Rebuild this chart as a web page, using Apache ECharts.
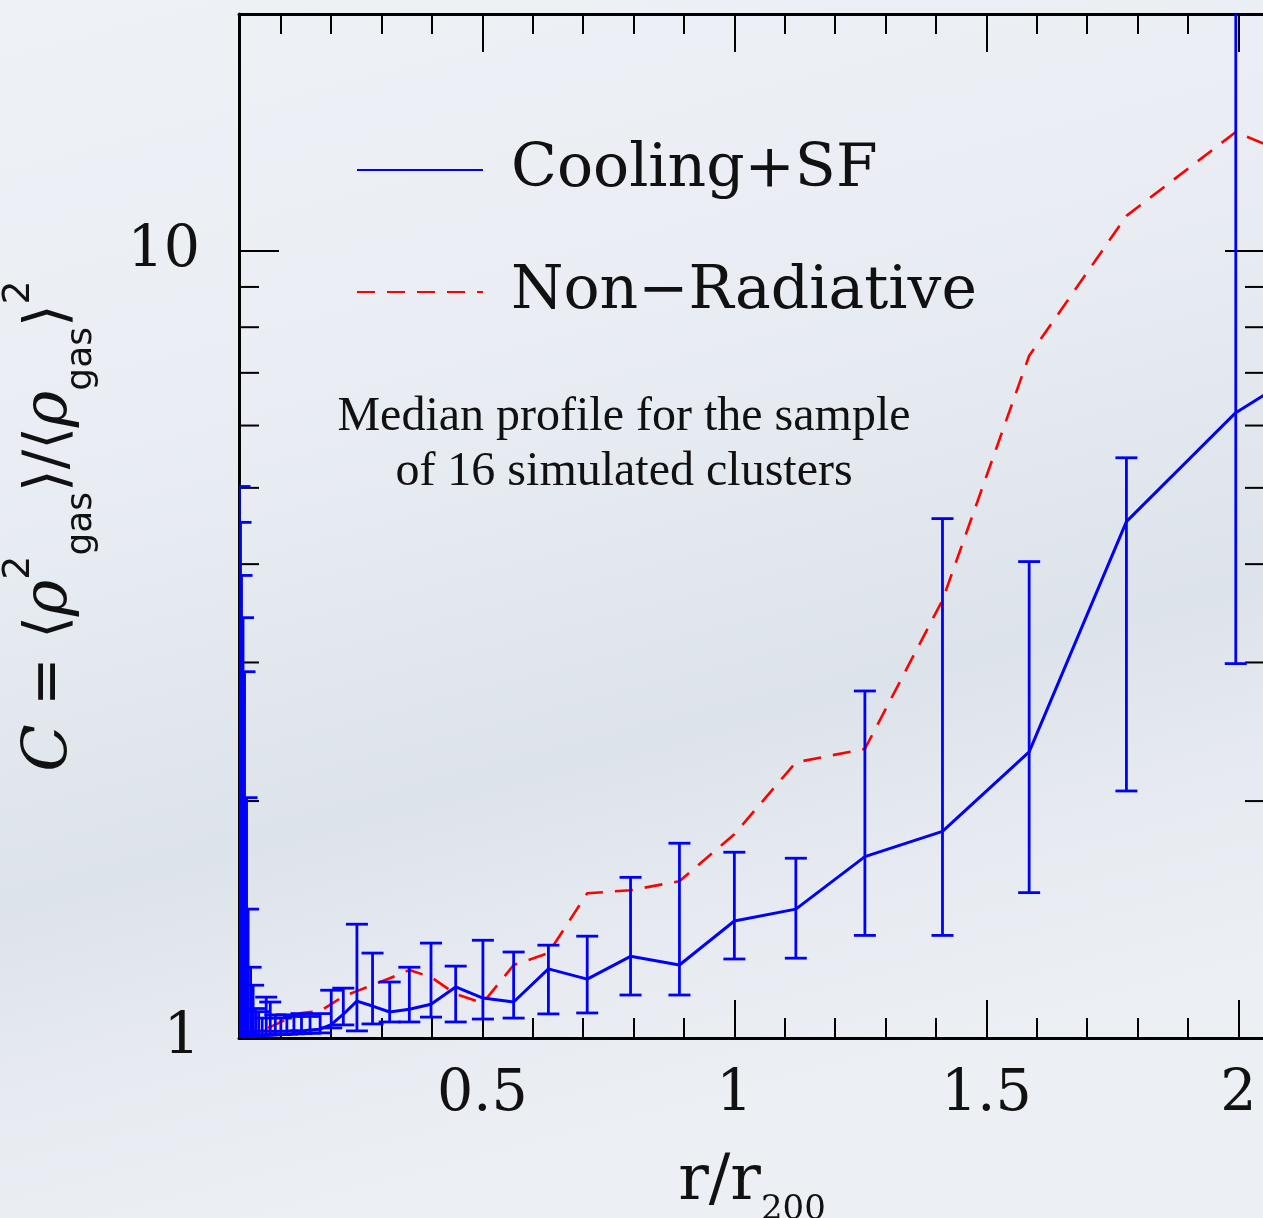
<!DOCTYPE html>
<html>
<head>
<meta charset="utf-8">
<script src="https://cdn.jsdelivr.net/npm/echarts@6/dist/echarts.min.js"></script>
<style>
html,body{margin:0;padding:0;background:#e9edf3;}
#chart{width:1263px;height:1218px;}
</style>
</head>
<body>
<div id="chart"></div>
<script>
// r / r200 sample positions
const radius = [0.018, 0.020, 0.022, 0.025, 0.028, 0.032, 0.035, 0.040, 0.045, 0.050,
  0.056, 0.063, 0.071, 0.079, 0.089, 0.100, 0.112, 0.126, 0.141, 0.158,
  0.178, 0.200, 0.224, 0.251, 0.282, 0.316, 0.355, 0.398, 0.447, 0.501,
  0.562, 0.631, 0.708, 0.794, 0.891, 1.000, 1.122, 1.259, 1.413, 1.585,
  1.778, 1.995, 2.239];
// Cooling+SF median clumping factor
const coolingMedian = [1.008, 1.010, 1.012, 1.014, 1.015, 1.016, 1.018, 1.018, 1.019, 1.020,
  1.020, 1.021, 1.020, 1.020, 1.019, 1.020, 1.020, 1.022, 1.021, 1.024,
  1.026, 1.040, 1.072, 1.114, 1.098, 1.079, 1.088, 1.104, 1.161, 1.124,
  1.111, 1.224, 1.188, 1.270, 1.238, 1.408, 1.458, 1.70, 1.83, 2.31,
  4.53, 6.23, 7.8];
const coolingLow = [1.000, 1.000, 1.001, 1.002, 1.003, 1.004, 1.005, 1.006, 1.006, 1.007,
  1.008, 1.008, 1.009, 1.009, 1.010, 1.010, 1.011, 1.012, 1.013, 1.014,
  1.015, 1.030, 1.039, 1.021, 1.042, 1.048, 1.048, 1.063, 1.048, 1.057,
  1.060, 1.073, 1.076, 1.134, 1.134, 1.26, 1.263, 1.35, 1.35, 1.53,
  2.06, 2.99, null];
const coolingHigh = [5.02, 4.52, 3.87, 3.42, 2.92, 2.02, 1.458, 1.23, 1.167, 1.09,
  1.08, 1.06, 1.127, 1.111, 1.07, 1.06, 1.07, 1.065, 1.074, 1.065,
  1.074, 1.15, 1.157, 1.395, 1.282, 1.178, 1.23, 1.32, 1.234, 1.331,
  1.286, 1.312, 1.347, 1.60, 1.768, 1.722, 1.692, 2.76, 4.57, 4.03,
  5.46, 25, null];
// Non-Radiative median clumping factor
const nonRadiative = [1.004, 1.006, 1.007, 1.008, 1.009, 1.010, 1.011, 1.012, 1.013, 1.015,
  1.018, 1.021, 1.027, 1.033, 1.040, 1.048, 1.057, 1.066, 1.076, 1.079,
  1.082, 1.104, 1.130, 1.147, 1.168, 1.191, 1.220, 1.195, 1.137, 1.108,
  1.238, 1.282, 1.527, 1.541, 1.582, 1.815, 2.24, 2.33, 3.60, 7.36,
  11.08, 14.16, 12.2];

const xMajorTicks = [0.5, 1, 1.5, 2];
const xMinorTicks = [0.1, 0.2, 0.3, 0.4, 0.6, 0.7, 0.8, 0.9, 1.1, 1.2, 1.3, 1.4,
  1.6, 1.7, 1.8, 1.9, 2.0];
const yMinorTicks = [2, 3, 4, 5, 6, 7, 8, 9, 20];

const X_MIN = 0.017, X_MAX = 2.053, Y_MIN = 1, Y_MAX = 20;
const BLUE = '#0000ff', RED = '#ff0000', INK = '#111111';

const chart = echarts.init(document.getElementById('chart'), null, {renderer: 'canvas'});

function xAxisDef(position, ticks, len, opts) {
  return Object.assign({
    type: 'value', position: position, min: X_MIN, max: X_MAX,
    axisLine: {show: false},
    axisTick: {show: true, inside: true, length: len, customValues: ticks,
      lineStyle: {color: '#000', width: 2}},
    axisLabel: {show: false},
    splitLine: {show: false}
  }, opts || {});
}

const axisLineStyle = {show: true, onZero: false, lineStyle: {color: '#000', width: 3}};

const option = {
  backgroundColor: {
    type: 'linear', x: 0, y: 0, x2: 0.25, y2: 1,
    colorStops: [
      {offset: 0, color: '#eef1f6'},
      {offset: 0.35, color: '#eaeef4'},
      {offset: 0.55, color: '#e3e8ef'},
      {offset: 0.7, color: '#dde3ea'},
      {offset: 0.85, color: '#e7ebf1'},
      {offset: 1, color: '#eceff4'}
    ]
  },
  animation: false,
  grid: {left: 239, top: 14, right: -2, bottom: 180, containLabel: false, outerBoundsMode: 'none'},
  legend: {
    data: ['Cooling+SF', 'Non\u2212Radiative'],
    orient: 'vertical', left: 356, top: 138, padding: 0,
    itemWidth: 126, itemHeight: 20, itemGap: 58,
    selectedMode: false,
    itemStyle: {opacity: 0, borderWidth: 0},
    textStyle: {fontFamily: '"DejaVu Serif", serif', fontSize: 60, color: INK,
      lineHeight: 64, padding: [0, 0, 0, 23]}
  },
  xAxis: [
    xAxisDef('bottom', xMajorTicks, 38, {
      axisLine: axisLineStyle,
      axisLabel: {show: true, customValues: xMajorTicks, margin: 29,
        fontFamily: '"DejaVu Serif", serif', fontSize: 57, color: INK},
      name: '{n|r/r}{sub|200}', nameLocation: 'middle', nameGap: 99,
      nameTextStyle: {
        color: INK,
        rich: {
          n: {fontFamily: '"DejaVu Serif", serif', fontSize: 64, lineHeight: 90, color: INK},
          sub: {fontFamily: '"DejaVu Serif", serif', fontSize: 34, lineHeight: 34,
            verticalAlign: 'bottom', color: INK}
        }
      }
    }),
    xAxisDef('bottom', xMinorTicks, 20),
    xAxisDef('top', xMajorTicks, 38, {axisLine: axisLineStyle}),
    xAxisDef('top', xMinorTicks, 20)
  ],
  yAxis: [
    {
      type: 'log', logBase: 10, min: Y_MIN, max: Y_MAX, position: 'left',
      axisLine: axisLineStyle,
      axisTick: {show: true, inside: true, length: 40, lineStyle: {color: '#000', width: 2}},
      axisLabel: {show: true, margin: 39, showMaxLabel: false,
        fontFamily: '"DejaVu Serif", serif', fontSize: 57, color: INK},
      splitLine: {show: false},
      name: '{i|C}{n| = \u27e8}{i|\u03c1}{sup|2}{sub|gas}{n|\u27e9/\u27e8}{i|\u03c1}{sub|gas}{n|\u27e9}{sup|2}',
      nameLocation: 'middle', nameRotate: 90, nameGap: 139,
      nameTextStyle: {
        color: INK,
        rich: {
          i: {fontFamily: '"DejaVu Serif", serif', fontStyle: 'italic', fontSize: 62,
            lineHeight: 100, color: INK},
          n: {fontFamily: '"DejaVu Sans", "Noto Sans", sans-serif', fontSize: 58,
            lineHeight: 100, color: INK},
          sup: {fontFamily: '"DejaVu Sans", sans-serif', fontSize: 38, lineHeight: 64,
            verticalAlign: 'top', color: INK},
          sub: {fontFamily: '"DejaVu Sans", sans-serif', fontSize: 36, lineHeight: 34,
            verticalAlign: 'bottom', color: INK}
        }
      }
    },
    {
      type: 'log', logBase: 10, min: Y_MIN, max: Y_MAX, position: 'right',
      axisLine: axisLineStyle,
      axisTick: {show: true, inside: true, length: 40, lineStyle: {color: '#000', width: 2}},
      axisLabel: {show: false},
      splitLine: {show: false}
    }
  ],
  series: [
    {
      name: 'yMinorTicks', type: 'custom', xAxisIndex: 0, yAxisIndex: 0,
      silent: true, z: 3,
      data: yMinorTicks.map(v => [1, v]),
      encode: {x: 0, y: 1},
      renderItem: function (params, api) {
        const cs = params.coordSys;
        const y = api.coord([1, api.value(1)])[1];
        const st = {stroke: '#000', lineWidth: 2};
        return {type: 'group', children: [
          {type: 'line', shape: {x1: cs.x, y1: y, x2: cs.x + 20, y2: y}, style: st},
          {type: 'line', shape: {x1: cs.x + cs.width - 20, y1: y, x2: cs.x + cs.width, y2: y}, style: st}
        ]};
      }
    },
    {
      name: 'Non\u2212Radiative', type: 'line', xAxisIndex: 0, yAxisIndex: 0,
      data: radius.map((r, i) => [r, nonRadiative[i]]),
      symbol: 'none', clip: true, z: 2,
      lineStyle: {color: RED, width: 2.6, type: [18, 12]},
      itemStyle: {color: RED}
    },
    {
      name: 'Cooling+SF errors', type: 'custom', xAxisIndex: 0, yAxisIndex: 0,
      clip: true, silent: true, z: 4,
      data: radius.map((r, i) => [r, coolingLow[i], coolingHigh[i]])
        .filter(d => d[1] != null && d[2] != null),
      encode: {x: 0, y: [1, 2]},
      renderItem: function (params, api) {
        const x = api.value(0);
        const p1 = api.coord([x, api.value(1)]);
        const p2 = api.coord([x, api.value(2)]);
        const hw = 11;
        const st = {stroke: BLUE, lineWidth: 2.8};
        return {type: 'group', children: [
          {type: 'line', shape: {x1: p1[0], y1: p1[1], x2: p2[0], y2: p2[1]}, style: st},
          {type: 'line', shape: {x1: p1[0] - hw, y1: p1[1], x2: p1[0] + hw, y2: p1[1]}, style: st},
          {type: 'line', shape: {x1: p2[0] - hw, y1: p2[1], x2: p2[0] + hw, y2: p2[1]}, style: st}
        ]};
      }
    },
    {
      name: 'Cooling+SF', type: 'line', xAxisIndex: 0, yAxisIndex: 0,
      data: radius.map((r, i) => [r, coolingMedian[i]]),
      symbol: 'none', clip: true, z: 5,
      lineStyle: {color: BLUE, width: 3},
      itemStyle: {color: BLUE}
    }
  ],
  graphic: [
    {
      type: 'text', x: 624, y: 390, z: 10, silent: true,
      style: {
        text: 'Median profile for the sample\nof 16 simulated clusters',
        font: '48px "Liberation Serif", "Times New Roman", serif',
        fill: INK, textAlign: 'center', textVerticalAlign: 'top', lineHeight: 55
      }
    }
  ]
};

chart.setOption(option);
</script>
</body>
</html>
